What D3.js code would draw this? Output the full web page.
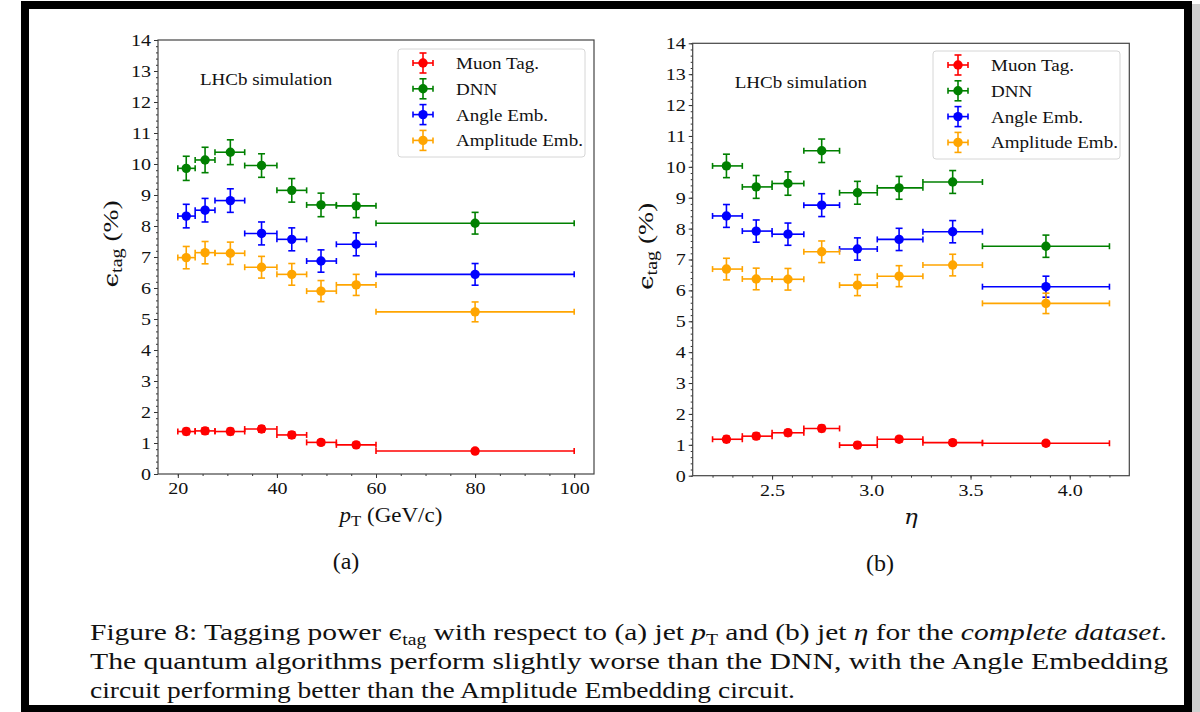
<!DOCTYPE html>
<html>
<head>
<meta charset="utf-8">
<script src="https://cdn.jsdelivr.net/npm/d3@7"></script>
<style>
  body { margin: 0; background: #fff; }
  text { font-family: "Liberation Serif", "Times New Roman", serif; fill: #111; }
</style>
</head>
<body>
<svg id="fig" width="1200" height="712"></svg>
<script>
// ---- data ----
const seriesNames = ['Muon Tag.', 'DNN', 'Angle Emb.', 'Amplitude Emb.'];
const seriesColors = ['#ff0000', '#008000', '#0000ff', '#ffa500'];

const ptEdges = [20, 23.5, 27.5, 33.5, 40, 46, 52, 60, 100];
const ptCenters = [21.7, 25.5, 30.6, 36.9, 43, 48.9, 56, 80];
const ptMuon = [1.37, 1.39, 1.37, 1.45, 1.26, 1.02, 0.94, 0.74];
const ptMuonErr = [0.1, 0.1, 0.1, 0.1, 0.1, 0.08, 0.08, 0.07];
const ptDnn = [9.86, 10.13, 10.38, 9.95, 9.15, 8.68, 8.65, 8.09];
const ptDnnErr = [0.39, 0.41, 0.4, 0.38, 0.38, 0.38, 0.38, 0.35];
const ptAngle = [8.32, 8.51, 8.82, 7.76, 7.57, 6.87, 7.41, 6.44];
const ptAngleErr = [0.38, 0.38, 0.38, 0.37, 0.37, 0.36, 0.37, 0.35];
const ptAmp = [6.98, 7.14, 7.12, 6.67, 6.44, 5.9, 6.1, 5.23];
const ptAmpErr = [0.36, 0.36, 0.36, 0.35, 0.35, 0.34, 0.34, 0.32];

const etaEdges = [2.2, 2.35, 2.5, 2.66, 2.84, 3.03, 3.26, 3.56, 4.2];
const etaCenters = [2.27, 2.42, 2.58, 2.75, 2.93, 3.14, 3.41, 3.88];
const etaMuon = [1.18, 1.28, 1.39, 1.53, 0.99, 1.18, 1.07, 1.05];
const etaMuonErr = [0.1, 0.1, 0.1, 0.1, 0.09, 0.09, 0.08, 0.08];
const etaDnn = [10.03, 9.35, 9.46, 10.52, 9.16, 9.32, 9.51, 7.43];
const etaDnnErr = [0.38, 0.37, 0.38, 0.38, 0.37, 0.37, 0.37, 0.36];
const etaAngle = [8.41, 7.92, 7.82, 8.76, 7.34, 7.65, 7.9, 6.12];
const etaAngleErr = [0.37, 0.36, 0.36, 0.37, 0.36, 0.36, 0.36, 0.34];
const etaAmp = [6.69, 6.37, 6.36, 7.25, 6.17, 6.46, 6.82, 5.58];
const etaAmpErr = [0.35, 0.35, 0.35, 0.35, 0.34, 0.34, 0.35, 0.33];

const yTicks = d3.range(0, 15, 1);
const ptTicks = [20, 40, 60, 80, 100];
const etaTicks = [2.5, 3.0, 3.5, 4.0];

const svg = d3.select('#fig');

// the source picture is a bit stretched sideways, so widen text to match
function widen(sel, f) {
    sel.each(function () {
        let n = this.getComputedTextLength();
        if (n > 0) d3.select(this).attr('textLength', n * f).attr('lengthAdjust', 'spacingAndGlyphs');
    });
}

// outer frame of the screenshot
svg.append('rect').attr('x', 1192).attr('y', 4).attr('width', 8).attr('height', 712).attr('fill', '#cfcfcf');
svg.append('rect').attr('x', 25).attr('y', 5).attr('width', 1163).attr('height', 704)
    .attr('fill', 'none').attr('stroke', '#000').attr('stroke-width', 8);

function drawPanel(opt) {
    let x = d3.scaleLinear().domain(opt.xDomain).range([opt.left, opt.right]);
    let y = d3.scaleLinear().domain([0, 14]).range([opt.bottom, opt.top]);
    let g = svg.append('g');

    // minor ticks
    g.append('g').attr('transform', `translate(${opt.left},0)`)
        .call(d3.axisLeft(y).tickValues(d3.range(0, 14.01, 0.2)).tickSize(2).tickFormat(''))
        .call(a => a.select('.domain').remove());
    g.append('g').attr('transform', `translate(0,${opt.bottom})`)
        .call(d3.axisBottom(x).tickValues(opt.minorTicks).tickSize(2).tickFormat(''))
        .call(a => a.select('.domain').remove());

    // major ticks
    let ya = g.append('g').attr('class', 'y-axis').attr('transform', `translate(${opt.left},0)`)
        .call(d3.axisLeft(y).tickValues(yTicks).tickSize(4).tickPadding(3))
        .call(a => a.select('.domain').remove());
    let xa = g.append('g').attr('class', 'x-axis').attr('transform', `translate(0,${opt.bottom})`)
        .call(d3.axisBottom(x).tickValues(opt.xTicks).tickSize(4).tickPadding(4).tickFormat(opt.fmt))
        .call(a => a.select('.domain').remove());
    [ya, xa].forEach(a => a.attr('font-family', null).attr('font-size', 17));
    g.selectAll('.tick line').attr('stroke', '#333');
    g.selectAll('.tick text').attr('fill', '#111');
    widen(g.selectAll('.tick text'), 1.18);

    g.append('rect')
        .attr('x', opt.left).attr('y', opt.top)
        .attr('width', opt.right - opt.left).attr('height', opt.bottom - opt.top)
        .attr('fill', 'none').attr('stroke', '#444').attr('stroke-width', 1.2);

    // error bar series
    opt.series.forEach((s, i) => {
        let col = seriesColors[i];
        let sg = g.append('g').attr('stroke', col).attr('stroke-width', 1.6).attr('fill', col);
        s.vals.forEach((v, k) => {
            let xl = x(opt.edges[k]), xr = x(opt.edges[k + 1]), xc = x(opt.centers[k]);
            let yc = y(v), yl = y(v - s.err[k]), yh = y(v + s.err[k]);
            sg.append('line').attr('x1', xl).attr('x2', xr).attr('y1', yc).attr('y2', yc);
            sg.append('line').attr('x1', xl).attr('x2', xl).attr('y1', yc - 3).attr('y2', yc + 3);
            sg.append('line').attr('x1', xr).attr('x2', xr).attr('y1', yc - 3).attr('y2', yc + 3);
            sg.append('line').attr('x1', xc).attr('x2', xc).attr('y1', yl).attr('y2', yh);
            sg.append('line').attr('x1', xc - 3.5).attr('x2', xc + 3.5).attr('y1', yl).attr('y2', yl);
            sg.append('line').attr('x1', xc - 3.5).attr('x2', xc + 3.5).attr('y1', yh).attr('y2', yh);
            sg.append('circle').attr('cx', xc).attr('cy', yc).attr('r', 4.7).attr('stroke', 'none');
        });
    });

    g.append('text').attr('x', opt.left + 42).attr('y', opt.top + 45)
        .style('font-size', '16.5px').text('LHCb simulation')
        .call(t => widen(t, 1.15));

    // legend
    let lg = g.append('g').attr('transform', `translate(${opt.legX},${opt.legY})`);
    lg.append('rect').attr('width', 187).attr('height', 108).attr('rx', 3)
        .attr('fill', '#fff').attr('stroke', '#d6d6d6');
    seriesNames.forEach((name, i) => {
        let ry = 14 + i * 25.8, col = seriesColors[i];
        let h = lg.append('g').attr('stroke', col).attr('stroke-width', 1.6).attr('fill', col);
        h.append('line').attr('x1', 15).attr('x2', 35).attr('y1', ry).attr('y2', ry);
        h.append('line').attr('x1', 25).attr('x2', 25).attr('y1', ry - 10).attr('y2', ry + 10);
        [[15, 15, ry - 3, ry + 3], [35, 35, ry - 3, ry + 3], [21.5, 28.5, ry - 10, ry - 10], [21.5, 28.5, ry + 10, ry + 10]]
            .forEach(c => h.append('line').attr('x1', c[0]).attr('x2', c[1]).attr('y1', c[2]).attr('y2', c[3]));
        h.append('circle').attr('cx', 25).attr('cy', ry).attr('r', 4.7).attr('stroke', 'none');
        lg.append('text').attr('x', 58).attr('y', ry + 6).style('font-size', '17px').text(name)
            .call(t => widen(t, 1.12));
    });

    // y label
    let yl = g.append('text').attr('transform', `translate(${opt.left - 40},${(opt.top + opt.bottom) / 2 - 13}) rotate(-90)`)
        .attr('text-anchor', 'middle').style('font-size', '22px');
    yl.append('tspan').style('font-family', '"DejaVu Serif", serif').style('font-size', '21px').text('\u03f5');
    yl.append('tspan').attr('dy', 4).style('font-size', '16px').text('tag');
    yl.append('tspan').attr('dy', -4).text('\u00a0(%)');
    widen(yl, 1.25);

    // x label
    let xl = g.append('text').attr('x', opt.xLabelX).attr('y', opt.bottom + 48)
        .attr('text-anchor', 'middle').style('font-size', '20px');
    opt.xLabel(xl);
    widen(xl, 1.15);

    g.append('text').attr('x', opt.subX).attr('y', opt.bottom + 95)
        .attr('text-anchor', 'middle').style('font-size', '24px').text(opt.sub);
}

drawPanel({
    left: 158, right: 594, top: 40, bottom: 474,
    xDomain: [16, 104], xTicks: ptTicks, minorTicks: d3.range(20, 101, 5), fmt: d3.format('d'),
    edges: ptEdges, centers: ptCenters,
    series: [
        { vals: ptMuon, err: ptMuonErr }, { vals: ptDnn, err: ptDnnErr },
        { vals: ptAngle, err: ptAngleErr }, { vals: ptAmp, err: ptAmpErr }
    ],
    legX: 398, legY: 49,
    xLabelX: 391,
    xLabel: t => {
        t.append('tspan').style('font-style', 'italic').text('p');
        t.append('tspan').attr('dy', 4).style('font-size', '14.5px').text('T');
        t.append('tspan').attr('dy', -4).text(' (GeV/c)');
    },
    subX: 346, sub: '(a)'
});

drawPanel({
    left: 692.7, right: 1129.3, top: 43.3, bottom: 475.7,
    xDomain: [2.1, 4.3], xTicks: etaTicks, minorTicks: d3.range(2.2, 4.25, 0.1), fmt: d3.format('.1f'),
    edges: etaEdges, centers: etaCenters,
    series: [
        { vals: etaMuon, err: etaMuonErr }, { vals: etaDnn, err: etaDnnErr },
        { vals: etaAngle, err: etaAngleErr }, { vals: etaAmp, err: etaAmpErr }
    ],
    legX: 933, legY: 51,
    xLabelX: 911,
    xLabel: t => t.append('tspan').style('font-style', 'italic').style('font-family', '"DejaVu Serif", serif').text('\u03b7'),
    subX: 880, sub: '(b)'
});

// caption
const capLines = [
    [['Figure 8: Tagging power '], ['\u03f5', 'eps'], ['tag', 'sub'], [' with respect to (a) jet '], ['p', 'it'], ['T', 'sub'],
     [' and (b) jet '], ['\u03b7', 'it'], [' for the '], ['complete dataset', 'it'], ['.']],
    [['The quantum algorithms perform slightly worse than the DNN, with the Angle Embedding']],
    [['circuit performing better than the Amplitude Embedding circuit.']]
];
const capWidths = [1077, 1078, 705];
capLines.forEach((parts, i) => {
    let t = svg.append('text').attr('x', 90).attr('y', 640 + i * 29).style('font-size', '24px')
        .attr('textLength', capWidths[i]).attr('lengthAdjust', 'spacingAndGlyphs');
    let lowered = false;
    parts.forEach(p => {
        let sp = t.append('tspan').text(p[0]);
        let dy = 0;
        if (p[1] === 'sub') { dy = lowered ? 0 : 5; lowered = true; sp.style('font-size', '16px'); }
        else if (lowered) { dy = -5; lowered = false; }
        if (dy) sp.attr('dy', dy);
        if (p[1] === 'it') sp.style('font-style', 'italic');
        if (p[1] === 'eps') sp.style('font-family', '"DejaVu Serif", serif').style('font-size', '20px');
    });
});
</script>
</body>
</html>
